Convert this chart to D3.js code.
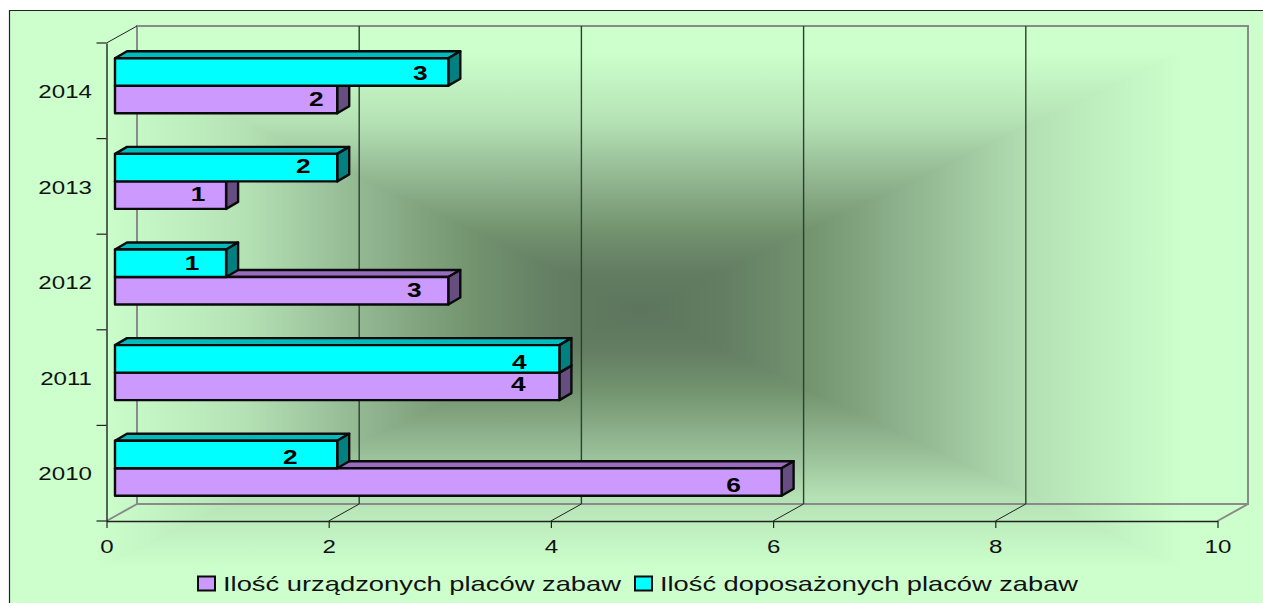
<!DOCTYPE html>
<html>
<head>
<meta charset="utf-8">
<script src="https://cdnjs.cloudflare.com/ajax/libs/d3/7.8.5/d3.min.js"></script>
<style>
html, body { margin: 0; padding: 0; background: #fff; overflow: hidden; }
text { font-family: "Liberation Sans", Arial, sans-serif; fill: #111; }
</style>
</head>
<body>
<svg id="viz"></svg>
<script>
var width = 1263;
var height = 603;

var categories = ["2014", "2013", "2012", "2011", "2010"];
var urzadzone = [2, 1, 3, 4, 6];
var doposazone = [3, 2, 1, 4, 2];
var xTicks = [0, 2, 4, 6, 8, 10];
var legendLabels = ["Ilość urządzonych placów zabaw", "Ilość doposażonych placów zabaw"];

// plot box, the back wall sits up and to the right of the front axes
var front = {left: 106.5, right: 1217.5, top: 43, bottom: 521};
var depth = {x: 30.5, y: -17};
var barDepth = {x: 12, y: -7};
var barStart = 8.5;
var barHeight = 27.5;
var textStretch = 1.27;

var x = d3.scaleLinear().domain([0, 10]).range([front.left, front.right]);
var y = d3.scaleBand().domain(categories).range([front.top, front.bottom]);

var svg = d3.select("#viz").attr("width", width).attr("height", height)
    .style("display", "block");
var defs = svg.append("defs");

// background: rectangular gradient, four triangles meeting in the middle
var box = {x0: 10, y0: 11, x1: 1270, y1: 609};
var mid = {x: 640, y: 310};
var stops = [
    [0, "#ccffcc"], [0.14, "#ccffcc"], [0.37, "#b5e2b5"], [0.53, "#97bd97"],
    [0.73, "#73946f"], [0.87, "#637d63"], [1, "#5c755c"]
];
var sides = [
    {id: "gTop", from: [mid.x, box.y0], pts: [[box.x0, box.y0], [box.x1, box.y0]]},
    {id: "gRight", from: [box.x1, mid.y], pts: [[box.x1, box.y0], [box.x1, box.y1]]},
    {id: "gBottom", from: [mid.x, box.y1], pts: [[box.x1, box.y1], [box.x0, box.y1]]},
    {id: "gLeft", from: [box.x0, mid.y], pts: [[box.x0, box.y1], [box.x0, box.y0]]}
];
sides.forEach(function(s) {
    var g = defs.append("linearGradient").attr("id", s.id)
        .attr("gradientUnits", "userSpaceOnUse")
        .attr("x1", s.from[0]).attr("y1", s.from[1])
        .attr("x2", mid.x).attr("y2", mid.y);
    stops.forEach(function(st) {
        g.append("stop").attr("offset", st[0]).attr("stop-color", st[1]);
    });
});

svg.append("rect").attr("x", box.x0).attr("y", box.y0)
    .attr("width", box.x1 - box.x0).attr("height", box.y1 - box.y0)
    .attr("fill", "#8fb38f");
svg.append("g").selectAll("polygon")
    .data(sides)
    .enter()
    .append("polygon")
    .attr("points", function(d) {
        return d.pts.concat([[mid.x, mid.y]]).join(" ");
    })
    .attr("fill", function(d) { return "url(#" + d.id + ")"; })
    .attr("stroke", function(d) { return "url(#" + d.id + ")"; })
    .attr("stroke-width", 1);

// frame, only left and top are inside the picture
svg.append("path")
    .attr("d", "M9.5,603V10.5H1263")
    .attr("fill", "none").attr("stroke", "#222").attr("stroke-width", 1.2);

// back wall
var wall = "#8a8a8a";
svg.append("rect")
    .attr("x", front.left + depth.x).attr("y", front.top + depth.y)
    .attr("width", front.right - front.left)
    .attr("height", front.bottom - front.top)
    .attr("fill", "none").attr("stroke", wall).attr("stroke-width", 2);

svg.append("line")
    .attr("x1", front.left).attr("y1", front.bottom)
    .attr("x2", front.left + depth.x).attr("y2", front.bottom + depth.y)
    .attr("stroke", wall).attr("stroke-width", 2);
svg.append("line")
    .attr("x1", front.right).attr("y1", front.bottom)
    .attr("x2", front.right + depth.x).attr("y2", front.bottom + depth.y)
    .attr("stroke", wall).attr("stroke-width", 2);
svg.append("line")
    .attr("x1", front.left).attr("y1", front.top)
    .attr("x2", front.left + depth.x).attr("y2", front.top + depth.y)
    .attr("stroke", "#222").attr("stroke-width", 1);

// grid lines on the wall and their floor diagonals
var inner = xTicks.slice(1, -1);
svg.append("g").selectAll("line")
    .data(inner)
    .enter()
    .append("line")
    .attr("x1", function(d) { return x(d) + depth.x; })
    .attr("x2", function(d) { return x(d) + depth.x; })
    .attr("y1", front.top + depth.y)
    .attr("y2", front.bottom + depth.y)
    .attr("stroke", "#2f3f2f").attr("stroke-width", 1.4);
svg.append("g").selectAll("line")
    .data(inner)
    .enter()
    .append("line")
    .attr("x1", function(d) { return x(d); })
    .attr("x2", function(d) { return x(d) + depth.x; })
    .attr("y1", front.bottom)
    .attr("y2", front.bottom + depth.y)
    .attr("stroke", "#222").attr("stroke-width", 1);

// axes
var xAxis = svg.append("g")
    .attr("transform", "translate(0," + front.bottom + ")")
    .call(d3.axisBottom(x).tickValues(xTicks).tickSizeInner(7).tickSizeOuter(0));
var yAxis = svg.append("g")
    .attr("transform", "translate(" + front.left + ",0)")
    .call(d3.axisLeft(y).tickSize(0).tickPadding(15));

[xAxis, yAxis].forEach(function(a) {
    a.select(".domain").attr("stroke", "#222").attr("stroke-width", 1.4);
    a.selectAll(".tick line").attr("stroke", "#222").attr("stroke-width", 1.2);
});
xAxis.selectAll(".tick text")
    .attr("font-size", 19)
    .attr("dy", 0)
    .attr("y", 0)
    .attr("transform", "translate(0,31.5) scale(" + textStretch + ",1)")
    .style("fill", "#111");
yAxis.selectAll(".tick text")
    .attr("font-size", 19)
    .attr("x", 0)
    .attr("dy", "0.38em")
    .attr("transform", "translate(-14.5,0) scale(" + textStretch + ",1)")
    .style("fill", "#111");

// left tick marks sit between the categories
svg.append("g").selectAll("line")
    .data(categories.concat([null]))
    .enter()
    .append("line")
    .attr("x1", front.left - 10)
    .attr("x2", front.left)
    .attr("y1", function(d) { return d === null ? front.bottom : y(d); })
    .attr("y2", function(d) { return d === null ? front.bottom : y(d); })
    .attr("stroke", "#222").attr("stroke-width", 1.2);

// 3d bars
function barY(cat, row) {
    return y(cat) + y.bandwidth() / 2 - 5 + (row - 1) * barHeight;
}

function drawBars(values, row, cols) {
    var g = svg.append("g").selectAll("g")
        .data(values)
        .enter()
        .append("g")
        .attr("stroke", "#0a0a0a")
        .attr("stroke-width", 2.4)
        .attr("stroke-linejoin", "round");
    var x0 = x(0) + barStart;
    function end(d) { return x(d) + barStart; }
    function pts(arr) { return arr.join(" "); }

    g.append("polygon")
        .attr("fill", cols.top)
        .attr("points", function(d, i) {
            var t = barY(categories[i], row);
            return pts([[x0, t], [x0 + barDepth.x, t + barDepth.y],
                [end(d) + barDepth.x, t + barDepth.y], [end(d), t]]);
        });
    g.append("polygon")
        .attr("fill", cols.side)
        .attr("points", function(d, i) {
            var t = barY(categories[i], row);
            return pts([[end(d), t], [end(d) + barDepth.x, t + barDepth.y],
                [end(d) + barDepth.x, t + barHeight + barDepth.y], [end(d), t + barHeight]]);
        });
    g.append("rect")
        .attr("fill", cols.face)
        .attr("x", x0)
        .attr("y", function(d, i) { return barY(categories[i], row); })
        .attr("width", function(d) { return end(d) - x0; })
        .attr("height", barHeight);
}

var purple = {face: "#cc99ff", top: "#9a6cc0", side: "#664f80"};
var cyan = {face: "#00ffff", top: "#00bcbc", side: "#008080"};
drawBars(urzadzone, 1, purple);
drawBars(doposazone, 0, cyan);

// value labels drift further from the bar end going down the chart
var purpleShift = [21, 28, 34, 41, 48];
var cyanShift = [28, 34, 34, 40, 47];
var purpleRise = [1, 2, 1.5, 3, -3];
var cyanRise = [0, 2.5, 1, -3, -2.5];

function drawLabels(values, row, shift, rise) {
    svg.append("g").selectAll("text")
        .data(values)
        .enter()
        .append("text")
        .text(function(d) { return d; })
        .attr("text-anchor", "middle")
        .attr("font-size", 21)
        .attr("font-weight", 700)
        .style("fill", "#000")
        .attr("transform", function(d, i) {
            var px = x(d) + barStart - shift[i];
            var py = barY(categories[i], row) + barHeight / 2 - rise[i] + 7.5;
            return "translate(" + px + "," + py + ") scale(1.25,1)";
        });
}
drawLabels(urzadzone, 1, purpleShift, purpleRise);
drawLabels(doposazone, 0, cyanShift, cyanRise);

// legend
var legendX = [198, 635];
var legendText = [[223, 398], [660, 418]];
var legendCols = [purple.face, cyan.face];
var legend = svg.append("g").selectAll("g")
    .data(legendLabels)
    .enter()
    .append("g");
legend.append("rect")
    .attr("x", function(d, i) { return legendX[i]; })
    .attr("y", 576.5)
    .attr("width", 17)
    .attr("height", 14)
    .attr("fill", function(d, i) { return legendCols[i]; })
    .attr("stroke", "#0a0a0a")
    .attr("stroke-width", 2);
legend.append("text")
    .text(function(d) { return d; })
    .attr("x", function(d, i) { return legendText[i][0]; })
    .attr("y", 591)
    .attr("font-size", 21)
    .attr("textLength", function(d, i) { return legendText[i][1]; })
    .attr("lengthAdjust", "spacingAndGlyphs");
</script>
</body>
</html>
